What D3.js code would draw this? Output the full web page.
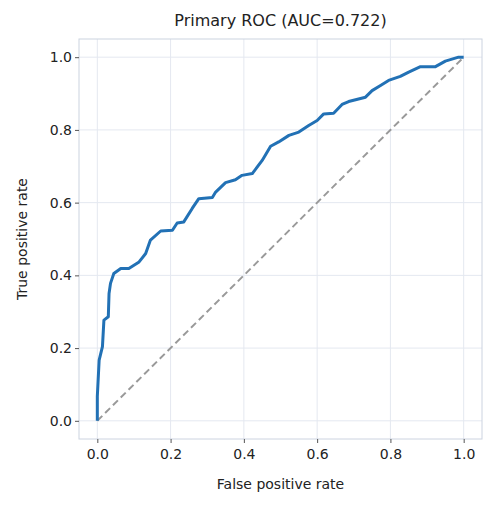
<!DOCTYPE html><html><head><meta charset="utf-8"><script src="https://cdn.jsdelivr.net/npm/d3@7"></script>
<style>body{margin:0;background:#fff}text{font-family:"DejaVu Sans",sans-serif;fill:#222}</style></head><body><svg id="c" width="495" height="508"></svg><script>
const fpr=[0,0,0.005,0.014,0.018,0.03,0.032,0.036,0.045,0.064,0.086,0.114,0.132,0.145,0.173,0.205,0.218,0.236,0.259,0.277,0.314,0.323,0.35,0.377,0.395,0.423,0.45,0.473,0.495,0.523,0.55,0.577,0.6,0.618,0.645,0.668,0.686,0.732,0.75,0.773,0.795,0.827,0.85,0.882,0.923,0.95,0.986,1];
const tpr=[0,0.067,0.167,0.204,0.277,0.286,0.35,0.378,0.405,0.419,0.419,0.437,0.46,0.497,0.522,0.524,0.544,0.547,0.584,0.611,0.614,0.629,0.655,0.663,0.675,0.68,0.716,0.755,0.767,0.785,0.794,0.812,0.826,0.844,0.846,0.87,0.878,0.89,0.908,0.922,0.936,0.947,0.959,0.974,0.974,0.989,1,1];
const ticks=[0,0.2,0.4,0.6,0.8,1.0];
const svg=d3.select("#c");
const L=79,R=482,T=39,B=439;
const x=d3.scaleLinear([-0.05,1.05],[L,R]), y=d3.scaleLinear([-0.05,1.05],[B,T]);
const g=svg.append("g");
ticks.forEach(t=>{g.append("line").attr("x1",x(t)).attr("x2",x(t)).attr("y1",T).attr("y2",B).attr("stroke","#e4e8f0");
g.append("line").attr("y1",y(t)).attr("y2",y(t)).attr("x1",L).attr("x2",R).attr("stroke","#e4e8f0");});
svg.append("rect").attr("x",L).attr("y",T).attr("width",R-L).attr("height",B-T).attr("fill","none").attr("stroke","#ccd3e0");
svg.append("g").attr("transform",`translate(0,${B})`).call(d3.axisBottom(x).tickValues(ticks).tickFormat(d3.format(".1f")).tickSize(4)).call(a=>{a.select(".domain").remove();a.selectAll("line").attr("stroke","#555");a.selectAll("text").style("font-size","14px").attr("dy","0.95em");});
svg.append("g").attr("transform",`translate(${L},0)`).call(d3.axisLeft(y).tickValues(ticks).tickFormat(d3.format(".1f")).tickSize(4)).call(a=>{a.select(".domain").remove();a.selectAll("line").attr("stroke","#555");a.selectAll("text").style("font-size","14px");});
svg.append("line").attr("x1",x(0)).attr("y1",y(0)).attr("x2",x(1)).attr("y2",y(1)).attr("stroke","#999").attr("stroke-width",2).attr("stroke-dasharray","7,4");
svg.append("path").datum(fpr.map((f,i)=>[f,tpr[i]])).attr("d",d3.line().x(d=>x(d[0])).y(d=>y(d[1]))).attr("fill","none").attr("stroke","#2271b5").attr("stroke-width",3).attr("stroke-linejoin","round");
svg.append("text").attr("x",(L+R)/2).attr("y",26).attr("text-anchor","middle").style("font-size","16px").text("Primary ROC (AUC=0.722)");
svg.append("text").attr("x",(L+R)/2).attr("y",489).attr("text-anchor","middle").style("font-size","14px").text("False positive rate");
svg.append("text").attr("transform",`translate(27,${(T+B)/2}) rotate(-90)`).attr("text-anchor","middle").style("font-size","14px").text("True positive rate");
</script></body></html>
